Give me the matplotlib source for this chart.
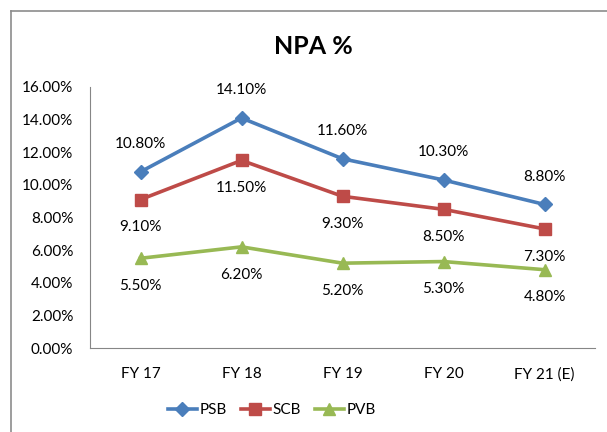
import matplotlib
matplotlib.use("Agg")
import matplotlib.pyplot as plt
from matplotlib.lines import Line2D
from matplotlib.ticker import FuncFormatter

plt.rcParams['font.family'] = ['Lato', 'DejaVu Sans']

categories = ["FY 17", "FY 18", "FY 19", "FY 20", "FY 21 (E)"]
psb = [10.8, 14.1, 11.6, 10.3, 8.8]
scb = [9.1, 11.5, 9.3, 8.5, 7.3]
pvb = [5.5, 6.2, 5.2, 5.3, 4.8]

fig = plt.figure(figsize=(6.07, 4.32), dpi=100)
ax = fig.add_axes([90/607, 1-348/432, 505/607, (348-87)/432])

x = list(range(len(categories)))
series = [
    ("PSB", psb, "#4A7EBB", "D", 7, 20),
    ("SCB", scb, "#BE4B48", "s", 8.5, -20),
    ("PVB", pvb, "#98B954", "^", 8.5, -20),
]
for name, vals, col, mk, ms, off in series:
    ax.plot(x, vals, color=col, lw=2.6, marker=mk, markersize=ms, label=name)
    for xi, v in zip(x, vals):
        ax.annotate(f"{v:.2f}%", (xi, v), xytext=(0, off), textcoords="offset points",
                    ha="center", va="center", fontsize=11, color="#000000")

ax.set_xlim(-0.5, len(categories) - 0.5)
ax.set_ylim(0, 16)
ax.set_yticks([0, 2, 4, 6, 8, 10, 12, 14, 16])
ax.yaxis.set_major_formatter(FuncFormatter(lambda v, p: f"{v:.2f}%"))
ax.set_xticks(x)
ax.set_xticklabels(categories)
ax.tick_params(axis="both", length=0, labelsize=11)
ax.tick_params(axis="y", pad=12)
ax.tick_params(axis="x", pad=14)
for s in ["top", "right"]:
    ax.spines[s].set_visible(False)
for s in ["left", "bottom"]:
    ax.spines[s].set_color("#868686")
    ax.spines[s].set_linewidth(0.8)

fig.text(313/607, 1-47/432, "NPA %", ha="center", va="center", fontsize=18, fontweight="bold")

leg = fig.legend(loc="center", bbox_to_anchor=(272/607, 1-410/432), ncol=3, frameon=False,
                 fontsize=11, handlelength=1.9, columnspacing=0.9, handletextpad=0.2)

# chart border
fig.add_artist(Line2D([11/607, 11/607], [0, 1-11/432], color="#8C8C8C", lw=1.2))
fig.add_artist(Line2D([11/607, 1], [1-11/432, 1-11/432], color="#8C8C8C", lw=1.2))

fig.savefig("out.png", dpi=100)
